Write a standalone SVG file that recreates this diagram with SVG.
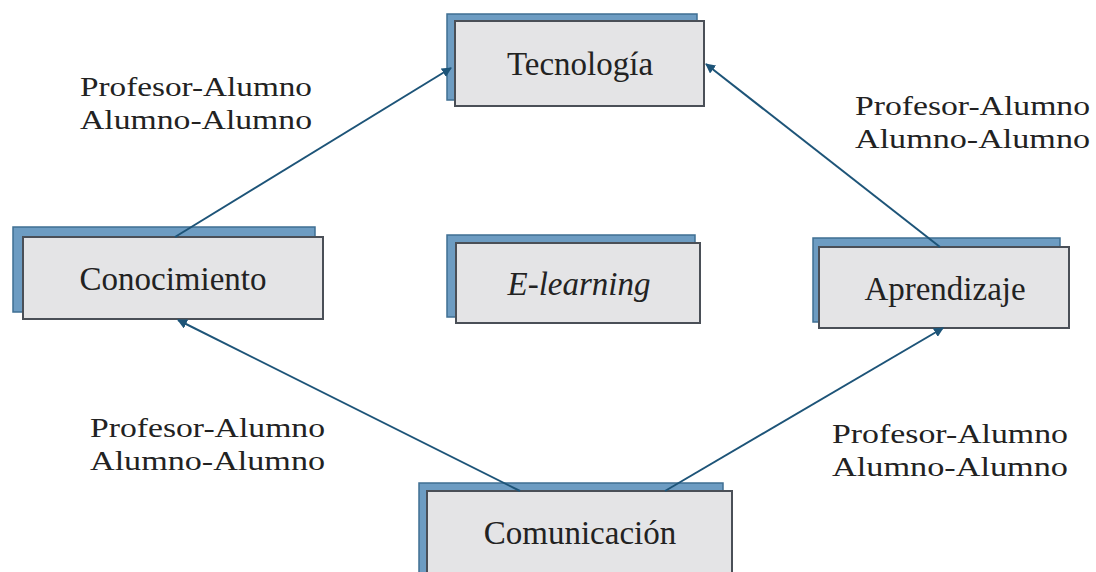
<svg xmlns="http://www.w3.org/2000/svg" width="1096" height="572" viewBox="0 0 1096 572">
<defs>
<marker id="ah" viewBox="0 0 10 10" refX="9" refY="5" markerWidth="5" markerHeight="5" orient="auto" markerUnits="strokeWidth">
<path d="M0,0 L10,5 L0,10 z" fill="#1d5478"/>
</marker>
</defs>
<style>
.sh{fill:#6d9cc2;stroke:#3f6f93;stroke-width:1.5}
.fr{fill:#e4e4e6;stroke:#4a4f57;stroke-width:2}
.nt{font-family:"Liberation Serif",serif;font-size:33px;fill:#222;text-anchor:middle}
.lb{font-family:"Liberation Serif",serif;font-size:28px;fill:#222}
.cn{stroke:#1d5478;stroke-width:2;fill:none;marker-end:url(#ah)}
</style>
<rect width="1096" height="572" fill="#ffffff"/>
<g id="node-tecnologia">
<rect class="sh" x="447" y="14" width="250" height="86"/>
<rect class="fr" x="455" y="21" width="249" height="85"/>
<text class="nt" x="580" y="75">Tecnología</text>
</g>
<g id="node-conocimiento">
<rect class="sh" x="13" y="227" width="302" height="85"/>
<rect class="fr" x="23" y="237" width="300" height="82"/>
<text class="nt" x="173" y="290">Conocimiento</text>
</g>
<g id="node-elearning">
<rect class="sh" x="447" y="235" width="248" height="82"/>
<rect class="fr" x="456" y="243" width="244" height="80"/>
<text class="nt" x="579" y="295" font-style="italic">E-learning</text>
</g>
<g id="node-aprendizaje">
<rect class="sh" x="813" y="238" width="247" height="84"/>
<rect class="fr" x="819" y="247" width="250" height="81"/>
<text class="nt" x="945" y="300">Aprendizaje</text>
</g>
<g id="node-comunicacion">
<rect class="sh" x="419" y="483" width="304" height="95"/>
<rect class="fr" x="427" y="491" width="305" height="90"/>
<text class="nt" x="580" y="544">Comunicación</text>
</g>
<g id="connectors">
<line class="cn" x1="175" y1="237" x2="451" y2="68"/>
<line class="cn" x1="940" y1="247" x2="706" y2="64"/>
<line class="cn" x1="520" y1="491" x2="178" y2="320"/>
<line class="cn" x1="665" y1="491" x2="943" y2="328"/>
</g>
<g id="labels">
<text class="lb" x="80" y="96" textLength="232" lengthAdjust="spacingAndGlyphs">Profesor-Alumno</text>
<text class="lb" x="80" y="129" textLength="232" lengthAdjust="spacingAndGlyphs">Alumno-Alumno</text>
<text class="lb" x="855" y="115" textLength="235" lengthAdjust="spacingAndGlyphs">Profesor-Alumno</text>
<text class="lb" x="855" y="148" textLength="235" lengthAdjust="spacingAndGlyphs">Alumno-Alumno</text>
<text class="lb" x="90" y="437" textLength="235" lengthAdjust="spacingAndGlyphs">Profesor-Alumno</text>
<text class="lb" x="90" y="470" textLength="235" lengthAdjust="spacingAndGlyphs">Alumno-Alumno</text>
<text class="lb" x="832" y="443" textLength="236" lengthAdjust="spacingAndGlyphs">Profesor-Alumno</text>
<text class="lb" x="832" y="476" textLength="236" lengthAdjust="spacingAndGlyphs">Alumno-Alumno</text>
</g>
</svg>
